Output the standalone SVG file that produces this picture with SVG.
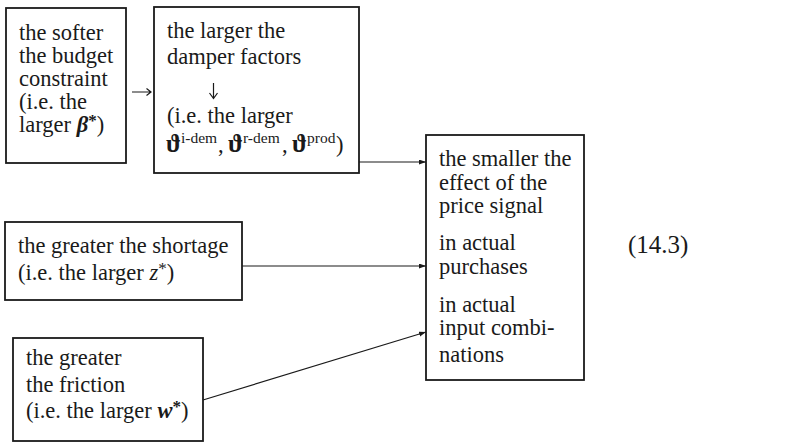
<svg xmlns="http://www.w3.org/2000/svg" width="812" height="442" viewBox="0 0 812 442">
  <style>
    .box { fill: #fff; stroke: #1a1a1a; stroke-width: 1.8; }
    .t { font-family: "Liberation Serif", "DejaVu Serif", serif; font-size: 22.5px; fill: #1a1a1a; }
    .sup { font-size: 15.5px; }
    .ast { font-size: 17px; }
    .theta { font-size: 25px; font-weight: bold; }
    .bi { font-weight: bold; font-style: italic; }
    .it { font-style: italic; }
    .b { font-weight: bold; }
    .edge { fill: none; stroke: #1a1a1a; stroke-width: 1.2; }
  </style>
  <defs>
    <marker id="head" markerUnits="userSpaceOnUse" markerWidth="8" markerHeight="6" refX="7" refY="2.5" orient="auto">
      <path d="M0,0 L7,2.5 L0,5 z" fill="#1a1a1a"/>
    </marker>
  </defs>
  <rect width="812" height="442" fill="#fff"/>

  <g id="budget">
    <rect class="box" x="6" y="8" width="120" height="155"/>
    <text class="t" x="19" y="40">the softer</text>
    <text class="t" x="19" y="63">the budget</text>
    <text class="t" x="19" y="86">constraint</text>
    <text class="t" x="19" y="109">(i.e. the</text>
    <text class="t" x="19" y="132">larger <tspan class="bi">β</tspan><tspan class="ast b" dy="-6">*</tspan><tspan dy="6">)</tspan></text>
  </g>

  <g id="damper">
    <rect class="box" x="154" y="7" width="205" height="166"/>
    <text class="t" x="167" y="38">the larger the</text>
    <text class="t" x="167" y="64">damper factors</text>
    <!-- small downward arrow between the two phrases -->
    <path d="M213.5,83 V98 M209.5,93 L213.5,98.5 L217.5,93" fill="none" stroke="#1a1a1a" stroke-width="1.2"/>
    <text class="t" x="167" y="123">(i.e. the larger</text>
    <text class="t theta" x="166" y="152">ϑ</text>
    <text class="t sup" x="181" y="143">i-dem</text>
    <text class="t" x="218" y="152">,</text>
    <text class="t theta" x="228" y="152">ϑ</text>
    <text class="t sup" x="243" y="143">r-dem</text>
    <text class="t" x="282" y="152">,</text>
    <text class="t theta" x="292" y="152">ϑ</text>
    <text class="t sup" x="307" y="143">prod</text>
    <text class="t" x="336" y="152">)</text>
  </g>

  <g id="shortage">
    <rect class="box" x="5" y="222" width="237" height="78"/>
    <text class="t" x="18" y="253">the greater the shortage</text>
    <text class="t" x="18" y="280">(i.e. the larger <tspan class="it">z</tspan><tspan class="ast" dy="-6">*</tspan><tspan dy="6">)</tspan></text>
  </g>

  <g id="friction">
    <rect class="box" x="13" y="338" width="190" height="103"/>
    <text class="t" x="26" y="365">the greater</text>
    <text class="t" x="26" y="392">the friction</text>
    <text class="t" x="26" y="418">(i.e. the larger <tspan class="bi">w</tspan><tspan class="ast b" dy="-6">*</tspan><tspan dy="6">)</tspan></text>
  </g>

  <g id="effect">
    <rect class="box" x="426" y="135" width="158" height="245"/>
    <text class="t" x="439" y="166">the smaller the</text>
    <text class="t" x="439" y="190">effect of the</text>
    <text class="t" x="439" y="213">price signal</text>
    <text class="t" x="439" y="250">in actual</text>
    <text class="t" x="439" y="274">purchases</text>
    <text class="t" x="439" y="312">in actual</text>
    <text class="t" x="439" y="335">input combi-</text>
    <text class="t" x="439" y="362">nations</text>
  </g>

  <g id="eqno">
    <text class="t" x="628" y="253" style="font-size:25px">(14.3)</text>
  </g>

  <g id="connectors">
    <path class="edge" d="M132,92 H151 M146.5,88.5 L151,92 L146.5,95.5"/>
    <line class="edge" x1="359" y1="162" x2="426" y2="162" marker-end="url(#head)"/>
    <line class="edge" x1="242" y1="266" x2="426" y2="266" marker-end="url(#head)"/>
    <line class="edge" x1="203" y1="400" x2="426" y2="332" marker-end="url(#head)"/>
  </g>
</svg>
